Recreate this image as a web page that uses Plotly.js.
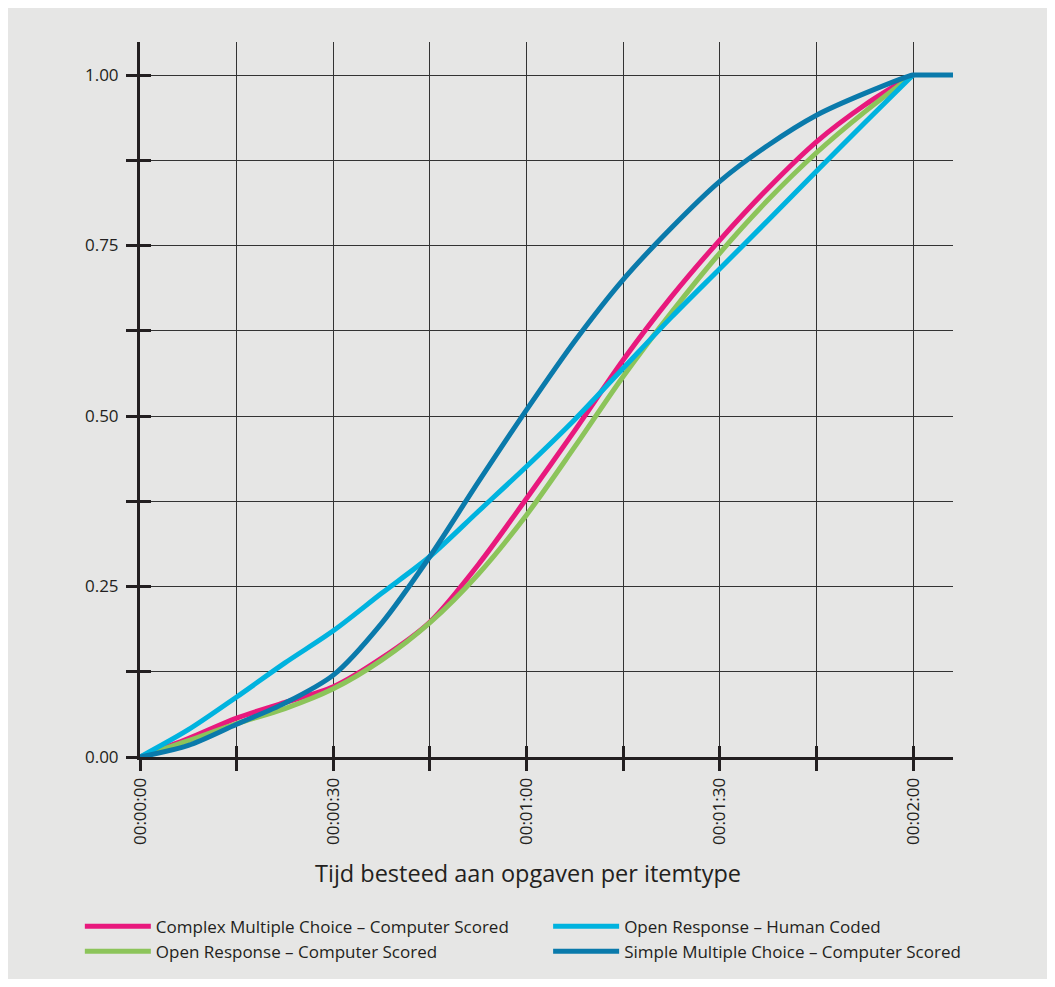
<!DOCTYPE html>
<html>
<head>
<meta charset="utf-8">
<script src="https://cdn.plot.ly/plotly-3.0.1.min.js"></script>
<style>
  html, body { margin: 0; padding: 0; background: #ffffff; }
  #chart { width: 1055px; height: 987px; }
</style>
</head>
<body>
<div id="chart"></div>
<script>
// Time in seconds
const times = [0, 7.5, 15, 22.5, 30, 37.5, 45, 52.5, 60, 67.5, 75, 82.5, 90, 97.5, 105, 112.5, 120];
const timesSimple = [0, 7.5, 15, 22.5, 30, 37.5, 45, 52.5, 60, 67.5, 75, 82.5, 90, 97.5, 105, 112.5, 120, 120.5, 126.2];

const complexMC = [0, 0.027, 0.057, 0.080, 0.103, 0.145, 0.198, 0.282, 0.379, 0.479, 0.582, 0.675, 0.758, 0.834, 0.902, 0.956, 1.0];
const openComputer = [0, 0.024, 0.049, 0.071, 0.100, 0.142, 0.197, 0.268, 0.355, 0.455, 0.558, 0.652, 0.739, 0.817, 0.886, 0.946, 1.0];
const openHuman = [0, 0.040, 0.088, 0.138, 0.185, 0.240, 0.294, 0.360, 0.426, 0.495, 0.570, 0.645, 0.716, 0.787, 0.859, 0.930, 1.0];
const simpleMC = [0, 0.017, 0.048, 0.079, 0.120, 0.196, 0.294, 0.403, 0.509, 0.610, 0.700, 0.776, 0.844, 0.897, 0.941, 0.973, 1.0, 1.0, 1.0];

const seriesNames = [
  "Complex Multiple Choice – Computer Scored",
  "Open Response – Computer Scored",
  "Open Response – Human Coded",
  "Simple Multiple Choice – Computer Scored"
];

const xTickVals = [0, 15, 30, 45, 60, 75, 90, 105, 120];
const xTickText = ["00:00:00", "", "00:00:30", "", "00:01:00", "", "00:01:30", "", "00:02:00"];
const yTickVals = [0, 0.125, 0.25, 0.375, 0.5, 0.625, 0.75, 0.875, 1.0];
const yTickText = ["0.00", "", "0.25", "", "0.50", "", "0.75", "", "1.00"];

const xTitle = "Tijd besteed aan opgaven per itemtype";

const FONT = "Open Sans, Noto Sans, sans-serif";
const INK = "#231f20";
const BG = "#e6e6e5";

function line(x, y, name, color, legend) {
  return {
    type: "scatter", mode: "lines", x: x, y: y, name: name,
    line: { color: color, width: 5, shape: "spline", smoothing: 0.85 },
    legend: legend, hoverinfo: "skip"
  };
}

const data = [
  line(times, complexMC, seriesNames[0], "#e8197d", "legend"),
  line(times, openComputer, seriesNames[1], "#8cc45a", "legend"),
  line(times, openHuman, seriesNames[2], "#00b3df", "legend2"),
  line(timesSimple, simpleMC, seriesNames[3], "#0a7aab", "legend2")
];

const xRange = [0, 126.2];
const yRange = [0, 1.0484];

const layout = {
  width: 1055, height: 987,
  paper_bgcolor: "#ffffff",
  plot_bgcolor: BG,
  margin: { l: 140, r: 102, t: 42, b: 230 },
  font: { family: FONT, color: INK, size: 17 },
  showlegend: true,
  xaxis: {
    range: xRange, tickmode: "array", tickvals: xTickVals, ticktext: xTickText,
    tickangle: -90, ticks: "outside", ticklen: 11, tickwidth: 3, tickcolor: INK,
    showline: true, linewidth: 3, linecolor: INK,
    showgrid: true, gridcolor: "#333333", gridwidth: 1, zeroline: false,
    tickfont: { size: 17, color: INK, family: FONT },
    ticklabelstandoff: 0,
    fixedrange: true
  },
  xaxis2: {
    range: xRange, overlaying: "x", anchor: "y", tickmode: "array", tickvals: xTickVals,
    showticklabels: false, ticks: "inside", ticklen: 11, tickwidth: 3, tickcolor: INK,
    showgrid: false, zeroline: false, showline: false
  },
  yaxis: {
    range: yRange, tickmode: "array", tickvals: yTickVals, ticktext: yTickText,
    ticks: "outside", ticklen: 11, tickwidth: 3, tickcolor: INK,
    showline: true, linewidth: 3, linecolor: INK,
    showgrid: true, gridcolor: "#333333", gridwidth: 1, zeroline: false,
    tickfont: { size: 17, color: INK, family: FONT },
    ticklabelstandoff: 4,
    fixedrange: true
  },
  yaxis2: {
    range: yRange, overlaying: "y", anchor: "x", tickmode: "array", tickvals: yTickVals,
    showticklabels: false, ticks: "inside", ticklen: 11, tickwidth: 3, tickcolor: INK,
    showgrid: false, zeroline: false, showline: false
  },
  legend: {
    x: -0.074, xanchor: "left", y: -0.212, yanchor: "top",
    orientation: "v", bgcolor: "rgba(0,0,0,0)",
    font: { size: 17, family: FONT, color: INK }, itemwidth: 66,
    tracegroupgap: 0
  },
  legend2: {
    x: 0.502, xanchor: "left", y: -0.212, yanchor: "top",
    orientation: "v", bgcolor: "rgba(0,0,0,0)",
    font: { size: 17, family: FONT, color: INK }, itemwidth: 66,
    tracegroupgap: 0
  },
  annotations: [{
    text: xTitle, xref: "paper", yref: "paper",
    x: (527.5 - 140) / 813, y: (757 - 873) / 715,
    xanchor: "center", yanchor: "middle", showarrow: false,
    font: { size: 23.5, family: FONT, color: INK }
  }],
  shapes: [{
    type: "rect", layer: "below", xref: "paper", yref: "paper",
    x0: (8 - 140) / 813, x1: (1047 - 140) / 813,
    y0: (757 - 979) / 715, y1: (757 - 8) / 715,
    fillcolor: BG, line: { width: 0 }
  }]
};

// empty traces that only activate the overlay axes carrying the inner tick marks
data.push({ type: "scatter", mode: "none", x: [], y: [], xaxis: "x2", yaxis: "y", showlegend: false, hoverinfo: "skip" });
data.push({ type: "scatter", mode: "none", x: [], y: [], xaxis: "x", yaxis: "y2", showlegend: false, hoverinfo: "skip" });

Plotly.newPlot("chart", data, layout, { staticPlot: true, displayModeBar: false });
</script>
</body>
</html>
